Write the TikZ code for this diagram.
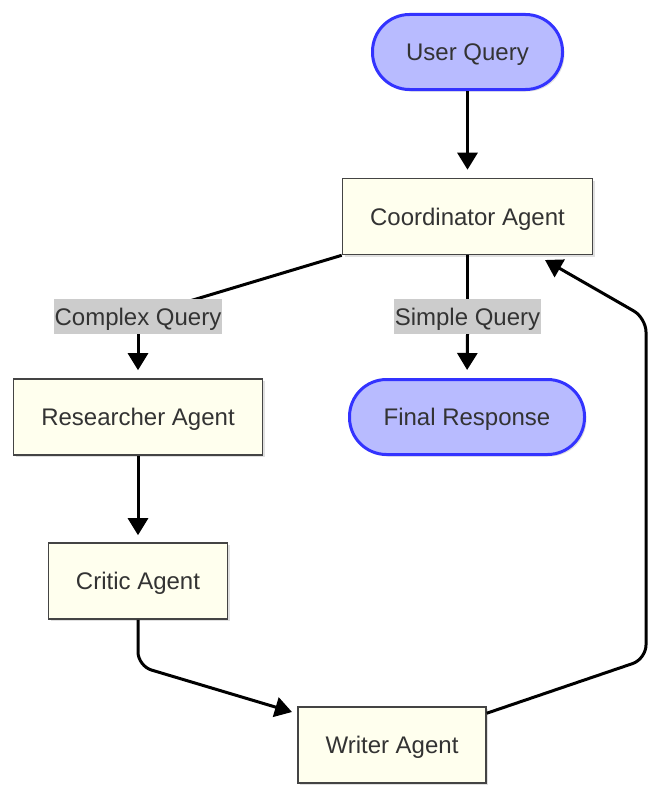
\documentclass[tikz,border=0pt]{standalone}
\usepackage{fontspec}
\setmainfont{Liberation Sans}
\usetikzlibrary{arrows.meta,shadows}
\definecolor{termfill}{HTML}{B8BBFF}
\definecolor{termdraw}{HTML}{3333FF}
\definecolor{boxfill}{HTML}{FFFFEE}
\definecolor{boxdraw}{HTML}{444444}
\definecolor{txt}{HTML}{333333}
\definecolor{lblfill}{HTML}{CCCCCC}
\begin{document}
\begin{tikzpicture}[x=1pt,y=-1pt,
  every node/.style={font=\fontsize{24}{28}\selectfont, text=txt, inner sep=0pt, text height=17pt, text depth=0pt},
  shad/.style={drop shadow={shadow xshift=2pt, shadow yshift=-2pt, opacity=0.12, fill=black}},
  term/.style={draw=termdraw, fill=termfill, line width=3pt, rounded corners=37pt, minimum height=75pt, shad},
  agent/.style={draw=boxdraw, fill=boxfill, line width=1.6pt, minimum height=76pt, shad},
  lbl/.style={fill=lblfill, minimum height=35pt, inner xsep=1pt},
  conn/.style={line width=3pt, draw=black},
  edge/.style={conn, -{Triangle[width=20pt,length=17pt]}}
]
\useasboundingbox (0,0) rectangle (662,800);

\node[term, minimum width=190pt] (uq) at (467.5,52) {User Query};
\node[agent, minimum width=250pt] (co) at (467.5,216.5) {Coordinator Agent};
\node[term, minimum width=235pt] (fr) at (467,417) {Final Response};
\node[agent, minimum width=249pt] (ra) at (138,417) {Researcher Agent};
\node[agent, minimum width=179pt] (ca) at (138,581) {Critic Agent};
\node[agent, minimum width=188pt] (wa) at (392,745) {Writer Agent};

\coordinate (cqc) at (138,316.5);
\coordinate (sqc) at (467.5,316.5);
\coordinate (k1) at (138,666);
\coordinate (t1) at (292,712);
\coordinate (k2) at (646,659);
\coordinate (k3) at (646,318);
\coordinate (t2) at (545,260);

\draw[conn] (co.south west) -- (cqc);
\draw[conn] (co.south) -- (sqc);

\node[lbl] (cq) at (cqc) {Complex Query};
\node[lbl] (sq) at (sqc) {Simple Query};

\draw[edge, shorten >=8pt] (uq.south) -- (co.north);
\draw[edge, shorten >=8pt] (cq.south) -- (ra.north);
\draw[edge, shorten >=8pt] (sq.south) -- (fr.north);
\draw[edge, shorten >=7pt] (ra.south) -- (ca.north);
\draw[edge, rounded corners=14pt] (ca.south) -- (k1) -- (t1);
\draw[edge, rounded corners=14pt] ([yshift=-7pt]wa.north east) -- (k2) -- (k3) -- (t2);
\end{tikzpicture}
\end{document}
